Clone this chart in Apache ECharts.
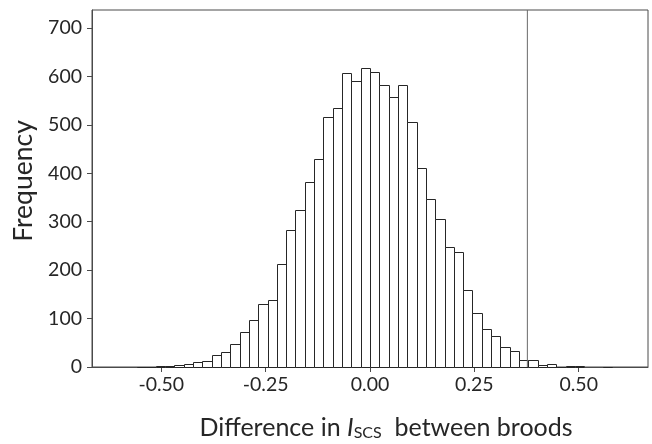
<!DOCTYPE html>
<html>
<head>
<meta charset="utf-8">
<script src="https://cdn.jsdelivr.net/npm/echarts@6/dist/echarts.min.js"></script>
<style>
html,body{margin:0;padding:0;background:#fff;}
#c{width:652px;height:444px;}
</style>
</head>
<body>
<div id="c"></div>
<script>
// Histogram bin counts, from left bin (starting at firstEdge) to right
const counts = [1, 1, 2, 2, 5, 7, 10, 12, 24, 30,
                47, 72, 96, 131, 139, 212, 282, 325, 382, 429,
                516, 534, 606, 591, 617, 610, 582, 557, 582, 505,
                411, 347, 306, 248, 237, 158, 112, 79, 63, 41,
                32, 15, 15, 5, 7, 1, 2, 2, 0, 0, 1];
const firstEdge = -0.55775;
const binWidth = 0.02231;
const xTicks = [-0.5, -0.25, 0, 0.25, 0.5];
const yTicks = [0, 100, 200, 300, 400, 500, 600, 700];
const observed = 0.377;
const xMin = -0.666, xMax = 0.666, yMax = 737;

const FONT = 'Lato';
const binData = counts.map((c, i) => [firstEdge + i * binWidth, firstEdge + (i + 1) * binWidth, c]);

const chart = echarts.init(document.getElementById('c'), null, {renderer: 'canvas'});
chart.setOption({
  animation: false,
  backgroundColor: '#fff',
  grid: {left: 92, right: 4, top: 10, bottom: 77, containLabel: false, outerBoundsMode: 'none',
         show: true, borderColor: '#4a4a4a', borderWidth: 1, backgroundColor: 'transparent'},
  xAxis: {
    type: 'value', min: xMin, max: xMax,
    splitLine: {show: false},
    axisLine: {show: true, onZero: false, lineStyle: {color: '#4a4a4a', width: 1}},
    axisTick: {show: true, length: 5, customValues: xTicks, lineStyle: {color: '#4a4a4a'}},
    axisLabel: {customValues: xTicks, formatter: v => v.toFixed(2), color: '#262626', fontFamily: FONT, fontSize: 19.5, margin: 8},
    name: '{a|Difference in }{i|I}{s|SCS}{a|  between broods}',
    nameLocation: 'middle', nameGap: 47,
    nameTextStyle: {
      padding: [0, 0, 0, 32],
      rich: {
        a: {fontFamily: FONT, fontSize: 25, color: '#262626'},
        i: {fontFamily: FONT, fontSize: 25, fontStyle: 'italic', color: '#262626'},
        s: {fontFamily: FONT, fontSize: 16, color: '#262626', padding: [11, 0, 0, 0]}
      }
    }
  },
  yAxis: {
    type: 'value', min: 0, max: yMax,
    splitLine: {show: false},
    axisLine: {show: true, onZero: false, lineStyle: {color: '#4a4a4a', width: 1}},
    axisTick: {show: true, length: 5, customValues: yTicks, lineStyle: {color: '#4a4a4a'}},
    axisLabel: {customValues: yTicks, color: '#262626', fontFamily: FONT, fontSize: 19.5, margin: 10},
    name: 'Frequency', nameLocation: 'middle', nameGap: 55,
    nameTextStyle: {fontFamily: FONT, fontSize: 26.5, color: '#262626', padding: [0, 0, 0, 15]}
  },
  series: [
    {
      type: 'custom',
      data: binData,
      encode: {x: [0, 1], y: 2},
      renderItem: function (params, api) {
        const c = api.value(2);
        if (!c) return null;
        const p0 = api.coord([api.value(0), 0]);
        const p1 = api.coord([api.value(1), c]);
        const x0 = Math.round(p0[0]) + 0.5, x1 = Math.round(p1[0]) + 0.5;
        const y0 = Math.round(p0[1]) + 0.5, y1 = Math.round(p1[1]) + 0.5;
        return {
          type: 'rect',
          shape: {x: x0, y: y1, width: x1 - x0, height: y0 - y1},
          style: {fill: '#ffffff', stroke: '#262626', lineWidth: 1}
        };
      }
    },
    {
      type: 'line',
      data: [[observed, 0], [observed, yMax]],
      symbol: 'none',
      lineStyle: {color: '#6a6a6a', width: 1},
      z: 3
    }
  ]
});
</script>
</body>
</html>
